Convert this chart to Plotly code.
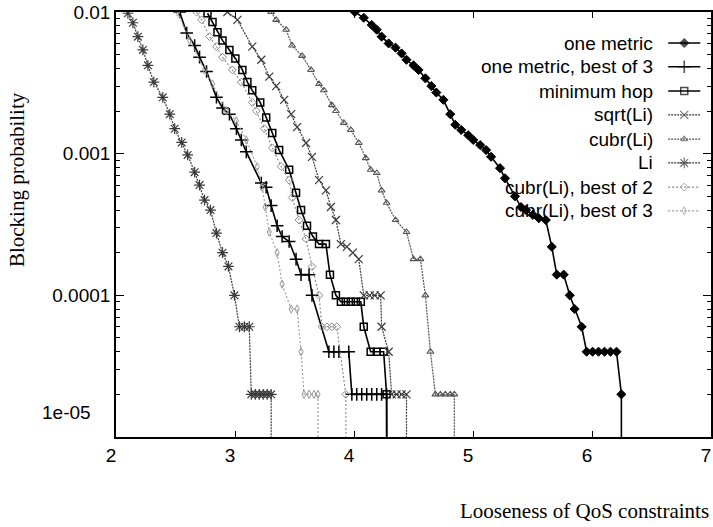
import plotly.graph_objects as go

# stand-in for "zero blocking" so that the curves drop off a log axis
ZERO_FLOOR = 1e-9

series_names = [
    "one metric",
    "one metric, best of 3",
    "minimum hop",
    "sqrt(Li)",
    "cubr(Li)",
    "Li",
    "cubr(Li), best of 2",
    "cubr(Li), best of 3",
]

one_metric_x = [4.007, 4.082, 4.149, 4.191, 4.232, 4.291, 4.349, 4.400, 4.441, 4.500, 4.542, 4.600,
                4.650, 4.692, 4.751, 4.809, 4.851, 4.901, 4.960, 5.002, 5.060, 5.110, 5.152, 5.227,
                5.269, 5.353, 5.403, 5.445, 5.503, 5.553, 5.612, 5.662, 5.704, 5.762, 5.813, 5.854,
                5.913, 5.955, 6.005, 6.055, 6.105, 6.155, 6.206, 6.247, 6.247]
one_metric_y = [0.0100, 0.0091, 0.0081, 0.0075, 0.0067, 0.0060, 0.0056, 0.0051, 0.0046, 0.0042, 0.0039,
                0.0034, 0.0030, 0.0027, 0.0024, 0.0019, 0.0016, 0.00147, 0.00135, 0.00125, 0.00115,
                0.00106, 0.00095, 0.00079, 0.00067, 0.00050, 0.00042, 0.00040, 0.00037, 0.00035,
                0.00034, 0.00022, 0.00014, 0.00014, 0.0001, 8e-5, 6e-5, 4e-5, 4e-5, 4e-5, 4e-5, 4e-5,
                4e-5, 2e-5, 0]

one_best3_x = [2.535, 2.594, 2.661, 2.702, 2.761, 2.844, 2.895, 2.953, 3.012, 3.053, 3.095, 3.221,
               3.262, 3.304, 3.354, 3.396, 3.455, 3.513, 3.555, 3.622, 3.647, 3.789, 3.831, 3.873,
               3.956, 3.982, 4.023, 4.065, 4.107, 4.149, 4.191, 4.232, 4.274, 4.283]
one_best3_y = [0.0100, 0.0071, 0.0058, 0.0048, 0.0038, 0.0025, 0.0021, 0.0019, 0.0015, 0.00125, 0.00103,
               0.00062, 0.00058, 0.00043, 0.00031, 0.00026, 0.00024, 0.00018, 0.00014, 0.00014, 0.0001,
               4e-5, 4e-5, 4e-5, 4e-5, 2e-5, 2e-5, 2e-5, 2e-5, 2e-5, 2e-5, 2e-5, 2e-5, 0]

min_hop_x = [2.769, 2.811, 2.853, 2.895, 2.953, 3.003, 3.062, 3.104, 3.145, 3.212, 3.262, 3.313,
             3.371, 3.455, 3.513, 3.555, 3.605, 3.655, 3.706, 3.764, 3.798, 3.848, 3.890, 3.931,
             3.973, 4.015, 4.057, 4.082, 4.140, 4.191, 4.249, 4.274, 4.283]
min_hop_y = [0.0098, 0.0085, 0.0072, 0.0063, 0.0054, 0.0047, 0.0039, 0.0032, 0.0028, 0.0023, 0.0018,
             0.0014, 0.00106, 0.00077, 0.00053, 0.00040, 0.00031, 0.00026, 0.00023, 0.00023, 0.00014,
             0.0001, 9e-5, 9e-5, 9e-5, 9e-5, 9e-5, 6e-5, 4e-5, 4e-5, 4e-5, 2e-5, 0]

sqrt_li_x = [2.936, 3.020, 3.145, 3.221, 3.288, 3.346, 3.413, 3.472, 3.522, 3.597, 3.647, 3.706,
             3.764, 3.806, 3.848, 3.890, 3.940, 3.990, 4.040, 4.082, 4.132, 4.174, 4.224, 4.232,
             4.291, 4.316, 4.358, 4.400, 4.441, 4.441]
sqrt_li_y = [0.0100, 0.0088, 0.0057, 0.0046, 0.0035, 0.0030, 0.0024, 0.0019, 0.00154, 0.00119, 0.00095,
             0.00065, 0.00055, 0.00042, 0.00034, 0.00023, 0.00022, 0.00020, 0.00018, 1e-4, 1e-4, 1e-4,
             1e-4, 6e-5, 4e-5, 2e-5, 2e-5, 2e-5, 2e-5, 0]

cubr_li_x = [3.304, 3.346, 3.430, 3.480, 3.564, 3.639, 3.706, 3.747, 3.814, 3.848, 3.915, 3.973,
             4.040, 4.099, 4.140, 4.191, 4.232, 4.274, 4.349, 4.441, 4.500, 4.558, 4.600, 4.642,
             4.684, 4.726, 4.767, 4.809, 4.843, 4.843]
cubr_li_y = [0.0100, 0.0088, 0.0075, 0.0058, 0.0049, 0.0039, 0.0031, 0.0028, 0.0022, 0.0020, 0.00165,
             0.00147, 0.00119, 0.00093, 0.00077, 0.00073, 0.00055, 0.00045, 0.00034, 0.00028, 0.00018,
             0.00018, 1e-4, 4e-5, 2e-5, 2e-5, 2e-5, 2e-5, 2e-5, 0]

li_x = [2.100, 2.142, 2.184, 2.226, 2.268, 2.318, 2.393, 2.452, 2.493, 2.552, 2.602, 2.661, 2.702,
        2.744, 2.794, 2.844, 2.895, 2.945, 2.995, 3.037, 3.079, 3.120, 3.137, 3.171, 3.204, 3.237,
        3.271, 3.304, 3.304]
li_y = [0.0098, 0.0084, 0.0067, 0.0054, 0.0042, 0.0032, 0.0025, 0.0019, 0.0015, 0.0012, 0.00098,
        0.00074, 0.00060, 0.00047, 0.00040, 0.000275, 0.00020, 0.00016, 1e-4, 6e-5, 6e-5, 6e-5,
        2e-5, 2e-5, 2e-5, 2e-5, 2e-5, 2e-5, 0]

cubr_best2_x = [2.677, 2.719, 2.786, 2.844, 2.895, 2.978, 3.053, 3.145, 3.179, 3.246, 3.313, 3.388,
                3.455, 3.480, 3.538, 3.597, 3.647, 3.706, 3.731, 3.773, 3.814, 3.856, 3.931, 3.948]
cubr_best2_y = [0.0100, 0.0088, 0.0067, 0.0057, 0.0048, 0.0039, 0.0032, 0.0023, 0.0020, 0.0015, 0.0011,
                0.00081, 0.00065, 0.00049, 0.00034, 0.00025, 0.00016, 1e-4, 6e-5, 6e-5, 6e-5, 6e-5,
                2e-5, 0]

cubr_best3_x = [2.518, 2.619, 2.744, 2.811, 2.928, 3.012, 3.095, 3.187, 3.229, 3.254, 3.288, 3.354,
                3.396, 3.472, 3.522, 3.555, 3.580, 3.622, 3.664, 3.697, 3.697]
cubr_best3_y = [0.0100, 0.0063, 0.0039, 0.0031, 0.0020, 0.0017, 0.00125, 0.00081, 0.00058, 0.00042,
                0.00028, 0.00020, 0.00012, 8e-5, 8e-5, 4e-5, 2e-5, 2e-5, 2e-5, 2e-5, 0]

series_x = [one_metric_x, one_best3_x, min_hop_x, sqrt_li_x, cubr_li_x, li_x, cubr_best2_x, cubr_best3_x]
series_y = [one_metric_y, one_best3_y, min_hop_y, sqrt_li_y, cubr_li_y, li_y, cubr_best2_y, cubr_best3_y]

y_tick_vals = [1e-2, 1e-3, 1e-4, 1e-5]
y_tick_text = ["0.01", "0.001", "0.0001", ""]
x_tick_vals = [2, 3, 4, 5, 6, 7]
x_tick_text = ["2", "3", "4", "5", "6", "7"]

styles = [
    dict(color="black", width=1.6, dash="solid", symbol="diamond", msize=7, mlw=1.0),
    dict(color="black", width=1.6, dash="solid", symbol="cross-thin-open", msize=9, mlw=1.5),
    dict(color="black", width=1.6, dash="solid", symbol="square-open", msize=7, mlw=1.5),
    dict(color="#3a3a3a", width=1.2, dash="2px,1px", symbol="x-thin-open", msize=8, mlw=1.2),
    dict(color="#555555", width=1.2, dash="2px,1px", symbol="triangle-up-open", msize=6, mlw=1.1),
    dict(color="#3a3a3a", width=1.2, dash="2px,1px", symbol="asterisk-open", msize=9, mlw=1.2),
    dict(color="#8a8a8a", width=1.1, dash="2px,2px", symbol="diamond-open", msize=6, mlw=1.0),
    dict(color="#9a9a9a", width=1.1, dash="2px,2px", symbol="diamond-tall-open", msize=6, mlw=1.0),
]

SANS = "Liberation Sans, Arial, sans-serif"
SERIF = "Liberation Serif, Times New Roman, serif"

fig = go.Figure()

for name, xs, ys, st in zip(series_names, series_x, series_y, styles):
    yplot = [v if v > 0 else ZERO_FLOOR for v in ys]
    fig.add_trace(go.Scatter(
        x=xs, y=yplot, name=name, mode="lines+markers", showlegend=False,
        line=dict(color=st["color"], width=st["width"], dash=st["dash"]),
        marker=dict(symbol=st["symbol"], size=st["msize"], color=st["color"],
                    line=dict(color=st["color"], width=st["mlw"])),
    ))

# hand-made legend (text right-aligned, sample to the right), drawn on an overlay axis
leg_rows = [0.927, 0.871, 0.814, 0.758, 0.701, 0.645, 0.588, 0.532]
leg_text_x = 0.906
leg_sample_x = [0.928, 0.955, 0.982]
annotations = []
for name, st, ry in zip(series_names, styles, leg_rows):
    fig.add_trace(go.Scatter(
        x=leg_sample_x, y=[ry, ry, ry], xaxis="x2", yaxis="y2", mode="lines+markers",
        showlegend=False, hoverinfo="skip", cliponaxis=False,
        line=dict(color=st["color"], width=st["width"], dash=st["dash"]),
        marker=dict(symbol=st["symbol"], size=[0, st["msize"], 0], color=st["color"],
                    line=dict(color=st["color"], width=st["mlw"])),
    ))
    annotations.append(dict(x=leg_text_x, y=ry, xref="paper", yref="paper", text=name,
                            showarrow=False, xanchor="right", yanchor="middle",
                            font=dict(family=SANS, size=19, color="black")))

annotations.append(dict(x=-0.039, y=0.0565, xref="paper", yref="paper", text="1e-05",
                        showarrow=False, xanchor="right", yanchor="middle",
                        font=dict(family=SANS, size=19, color="black")))
annotations.append(dict(x=1.0, y=-0.175, xref="paper", yref="paper",
                        text="Looseness of QoS constraints", showarrow=False,
                        xanchor="right", yanchor="middle",
                        font=dict(family=SERIF, size=21, color="black")))
annotations.append(dict(x=-0.166, y=0.605, xref="paper", yref="paper",
                        text="Blocking probability", showarrow=False, textangle=-90,
                        xanchor="center", yanchor="middle",
                        font=dict(family=SERIF, size=21, color="black")))

fig.update_layout(
    width=713, height=527,
    margin=dict(l=116, r=0, t=12, b=90),
    paper_bgcolor="white", plot_bgcolor="white",
    showlegend=False,
    annotations=annotations,
    xaxis=dict(range=[2, 7], tickvals=x_tick_vals, ticktext=x_tick_text,
               ticks="inside", ticklen=6, tickcolor="black", tickwidth=1.2,
               showline=True, linecolor="black", linewidth=1.6, mirror="ticks",
               showgrid=False, zeroline=False, ticklabelshift=-5,
               tickfont=dict(family=SANS, size=19, color="black")),
    yaxis=dict(type="log", range=[-5, -2], tickvals=y_tick_vals, ticktext=y_tick_text,
               ticks="inside", ticklen=8, tickcolor="black", tickwidth=1.2,
               minor=dict(ticks="inside", ticklen=4, tickcolor="black", dtick="D1"),
               showline=True, linecolor="black", linewidth=1.6, mirror="ticks",
               showgrid=False, zeroline=False,
               tickfont=dict(family=SANS, size=19, color="black")),
    xaxis2=dict(overlaying="x", range=[0, 1], visible=False, fixedrange=True),
    yaxis2=dict(overlaying="y", range=[0, 1], visible=False, fixedrange=True),
)

fig.write_html("out.html")
